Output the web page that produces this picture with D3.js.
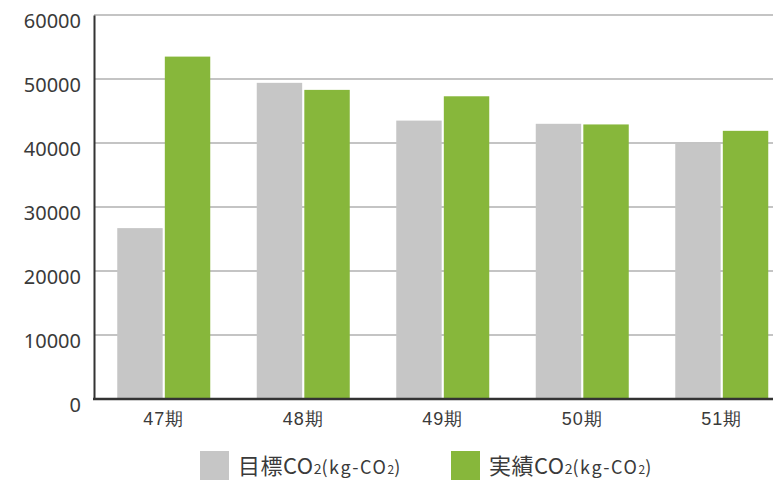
<!DOCTYPE html>
<html>
<head>
<meta charset="utf-8">
<script src="https://cdn.jsdelivr.net/npm/d3@7"></script>
<style>
  html, body { margin: 0; padding: 0; background: #fff; }
  svg { display: block; font-family: "Noto Sans CJK JP", "Noto Sans", sans-serif; }
</style>
</head>
<body>
<svg id="chart" width="773" height="483"></svg>
<script>
// Periods and CO2 values (kg-CO2)
const categories = ["47期", "48期", "49期", "50期", "51期"];
const targetCO2 = [26700, 49400, 43500, 43000, 39900];
const actualCO2 = [53500, 48300, 47300, 42900, 41900];
const yTicks = [0, 10000, 20000, 30000, 40000, 50000, 60000];
const seriesKeys = ["target", "actual"];
const seriesColors = { target: "#c6c6c6", actual: "#87b73b" };

const svg = d3.select("#chart");
const plotLeft = 94, plotRight = 791.5, plotTop = 15, plotBottom = 399;

const x = d3.scaleBand().domain(categories).range([plotLeft, plotRight]).padding(0);
const groupW = 93;
const xi = d3.scaleBand().domain(seriesKeys).range([0, groupW]).paddingInner(0.045);
const y = d3.scaleLinear().domain([0, 60000]).range([plotBottom, plotTop]);

// horizontal gridlines
svg.append("g")
  .selectAll("line")
  .data(yTicks.filter(d => d > 0))
  .join("line")
  .attr("x1", plotLeft).attr("x2", 773)
  .attr("y1", d => y(d)).attr("y2", d => y(d))
  .attr("stroke", "#8a8a8a").attr("stroke-width", 1.2);

// bars
const rows = categories.map((c, i) => ({ c, target: targetCO2[i], actual: actualCO2[i] }));
const groups = svg.append("g").selectAll("g")
  .data(rows).join("g")
  .attr("transform", d => `translate(${x(d.c) + x.bandwidth() / 2 - groupW / 2},0)`);
groups.selectAll("rect")
  .data(d => seriesKeys.map(k => ({ k, v: d[k] })))
  .join("rect")
  .attr("x", d => xi(d.k))
  .attr("width", xi.bandwidth())
  .attr("y", d => y(d.v))
  .attr("height", d => y(0) - y(d.v))
  .attr("fill", d => seriesColors[d.k]);

// y axis
const yAxis = svg.append("g")
  .attr("transform", `translate(${plotLeft},0)`)
  .call(d3.axisLeft(y).tickValues(yTicks).tickSize(0).tickPadding(13).tickFormat(d3.format("d")));
yAxis.select(".domain").attr("stroke", "#333").attr("stroke-width", 2);
yAxis.selectAll("text").attr("font-size", 20).attr("fill", "#3a3a3a").attr("dy", "0.6em")
  .attr("font-family", "'Noto Sans', 'Noto Sans CJK JP', sans-serif");

// x axis
const xAxis = svg.append("g")
  .attr("transform", `translate(0,${plotBottom})`)
  .call(d3.axisBottom(x).tickSize(0).tickPadding(13));
xAxis.select(".domain").attr("d", `M${plotLeft - 1},0H773`).attr("stroke", "#333").attr("stroke-width", 2.4);
xAxis.selectAll("text").attr("font-size", 18).attr("fill", "#3a3a3a").attr("font-weight", 500)
  .attr("letter-spacing", "1px");

// legend
const legendItems = [
  { k: "target", label: "目標", x: 200 },
  { k: "actual", label: "実績", x: 451 }
];
const lg = svg.append("g").selectAll("g").data(legendItems).join("g")
  .attr("transform", d => `translate(${d.x},451)`);
lg.append("rect").attr("width", 29).attr("height", 29).attr("fill", d => seriesColors[d.k]);
const lt = lg.append("text").attr("x", 38).attr("y", 23).attr("fill", "#3a3a3a").attr("font-size", 22);
lt.append("tspan").attr("letter-spacing", "0.5px").text(d => d.label + "CO");
lt.append("tspan").attr("font-size", 14).text("2");
lt.append("tspan").attr("font-size", 18).attr("letter-spacing", "1.6px").text("(kg-CO");
lt.append("tspan").attr("font-size", 12).text("2");
lt.append("tspan").attr("font-size", 18).text(")");
</script>
</body>
</html>
